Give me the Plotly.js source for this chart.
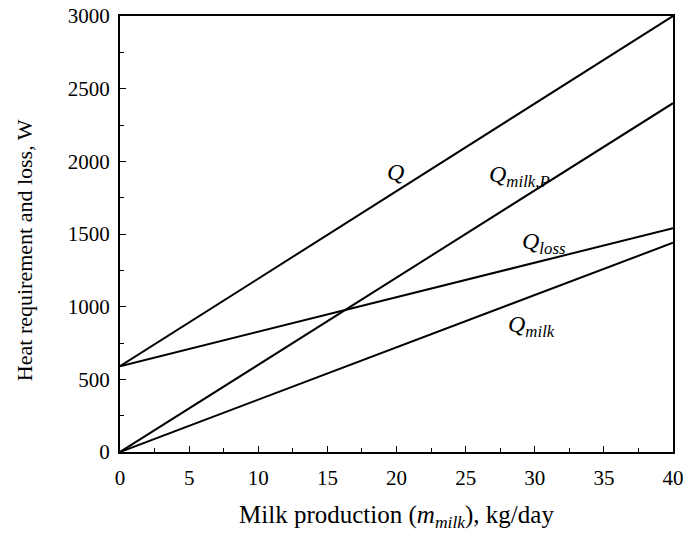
<!DOCTYPE html>
<html><head><meta charset="utf-8">
<script src="https://cdn.plot.ly/plotly-3.0.1.min.js"></script>
<style>html,body{margin:0;padding:0;background:#fff}</style>
</head><body><div id="chart" style="width:688px;height:545px"></div>
<script>
const xVals = [0, 40];
const qTotal = [590, 3000];
const qMilkP = [0, 2400];
const qLoss = [590, 1540];
const qMilk = [0, 1440];
const xTicks = [0, 5, 10, 15, 20, 25, 30, 35, 40];
const yTicks = [0, 500, 1000, 1500, 2000, 2500, 3000];
const xTitle = 'Milk production (<i>m</i><sub><i>milk</i></sub>), kg/day';
const yTitle = 'Heat requirement and loss, W';
const labels = [
  {text: '<i>Q</i>', x: 19.9, y: 1930},
  {text: '<i>Q</i><sub><i>milk,P</i></sub>', x: 28.9, y: 1900},
  {text: '<i>Q</i><sub><i>loss</i></sub>', x: 30.7, y: 1440},
  {text: '<i>Q</i><sub><i>milk</i></sub>', x: 29.8, y: 870}
];
const series = [qTotal, qMilkP, qLoss, qMilk];
const font = 'Liberation Serif, Times New Roman, serif';
const traces = series.map(s => ({x: xVals, y: s, mode: 'lines', type: 'scatter',
  line: {color: '#000', width: 2}, hoverinfo: 'skip', showlegend: false}));
const annotations = labels.map(l => ({x: l.x, y: l.y, xref: 'x', yref: 'y', text: l.text, showarrow: false,
  font: {size: 24, family: font, color: '#000'}}));
annotations.push({text: yTitle, xref: 'paper', yref: 'paper', x: -96 / 553, y: 0.463,
  xanchor: 'center', yanchor: 'middle', textangle: -90, showarrow: false,
  font: {size: 22, family: font, color: '#000'}});
const layout = {
  width: 688, height: 545,
  margin: {l: 120, r: 15, t: 16, b: 93},
  paper_bgcolor: '#fff', plot_bgcolor: '#fff',
  font: {family: font, color: '#000', size: 21},
  showlegend: false,
  xaxis: {range: [0, 40], tickvals: xTicks, ticks: 'inside', ticklen: 6, tickcolor: '#000',
    showline: true, linecolor: '#000', linewidth: 2, mirror: true, showgrid: false, zeroline: false,
    tickfont: {size: 21, family: font}, ticklabelstandoff: 6,
    minor: {dtick: 2.5, ticks: 'inside', ticklen: 4, tickcolor: '#000', showgrid: false},
    title: {text: xTitle, font: {size: 25, family: font}, standoff: 16}},
  yaxis: {range: [0, 3000], tickvals: yTicks, ticks: 'inside', ticklen: 6, tickcolor: '#000',
    showline: true, linecolor: '#000', linewidth: 2, mirror: true, showgrid: false, zeroline: false,
    tickfont: {size: 21, family: font}, ticklabelstandoff: 4,
    minor: {dtick: 250, ticks: 'inside', ticklen: 4, tickcolor: '#000', showgrid: false}},
  annotations: annotations
};
Plotly.newPlot('chart', traces, layout, {displayModeBar: false, staticPlot: true});
</script></body></html>
